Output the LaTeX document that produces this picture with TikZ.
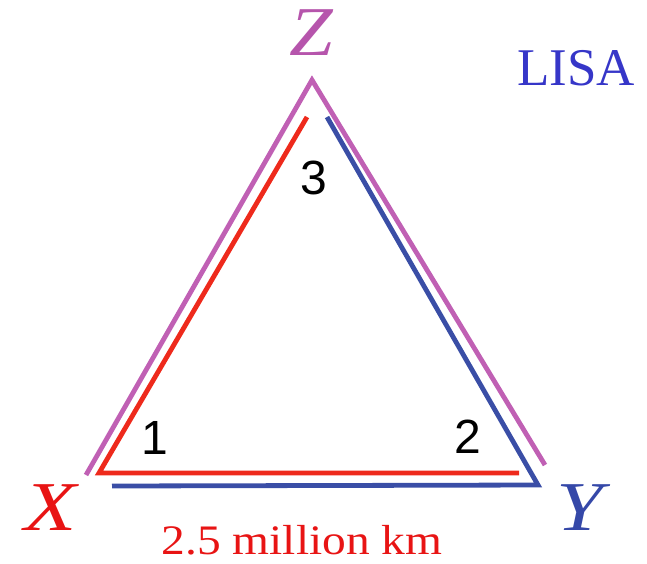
\documentclass[tikz,border=0pt]{standalone}
\usepackage{fontspec}
\setmainfont{Liberation Serif}
\newfontfamily\numfont{Liberation Sans}
\definecolor{armmag}{HTML}{C060B4}
\definecolor{armred}{HTML}{EE2A1C}
\definecolor{armblue}{HTML}{3A4EA6}
\definecolor{lisablue}{HTML}{3636C8}
\definecolor{zmag}{HTML}{B655AC}
\definecolor{xred}{HTML}{E81414}
\definecolor{yblue}{HTML}{3548A8}
\tikzset{
  arm/.style={line width=4.8pt, line join=miter},
  vlabel/.style={inner sep=0pt, font=\fontsize{70}{70}\selectfont\itshape},
  numlabel/.style={inner sep=0pt, font=\fontsize{48}{48}\selectfont\numfont},
}
\begin{document}
\begin{tikzpicture}[x=1pt,y=-1pt]
\useasboundingbox (0,0) rectangle (647,563);
% corners
\coordinate (mX) at (86,475);
\coordinate (mZ) at (312,80);
\coordinate (mY) at (545,465);
\coordinate (rZ) at (307,117);
\coordinate (rX) at (99,473);
\coordinate (rY) at (519,473);
\coordinate (bZ) at (327,117);
\coordinate (bY) at (538,485);
\coordinate (bX) at (112,486);
\draw[arm, armmag] (mX) -- (mZ) -- (mY);
\draw[arm, armred] (rZ) -- (rX) -- (rY);
\draw[arm, armblue] (bZ) -- (bY) -- (bX);
% labels
\node[vlabel, text=zmag, xscale=1.12] (Z) at (311,33) {Z};
\node[vlabel, text=xred, xscale=1.22] (X) at (51,508) {X};
\node[vlabel, text=yblue, xscale=1.2] (Y) at (580,508) {Y};
\node[numlabel] (n1) at (155,438) {1};
\node[numlabel] (n2) at (468,437) {2};
\node[numlabel] (n3) at (314,178) {3};
\node[inner sep=0pt, text=lisablue, font=\fontsize{53}{53}\selectfont] (lisa) at (576,68) {LISA};
\node[inner sep=0pt, text=xred, font=\fontsize{42}{42}\selectfont, xscale=1.13] (dist) at (302,540) {2.5 million km};
\end{tikzpicture}
\end{document}
